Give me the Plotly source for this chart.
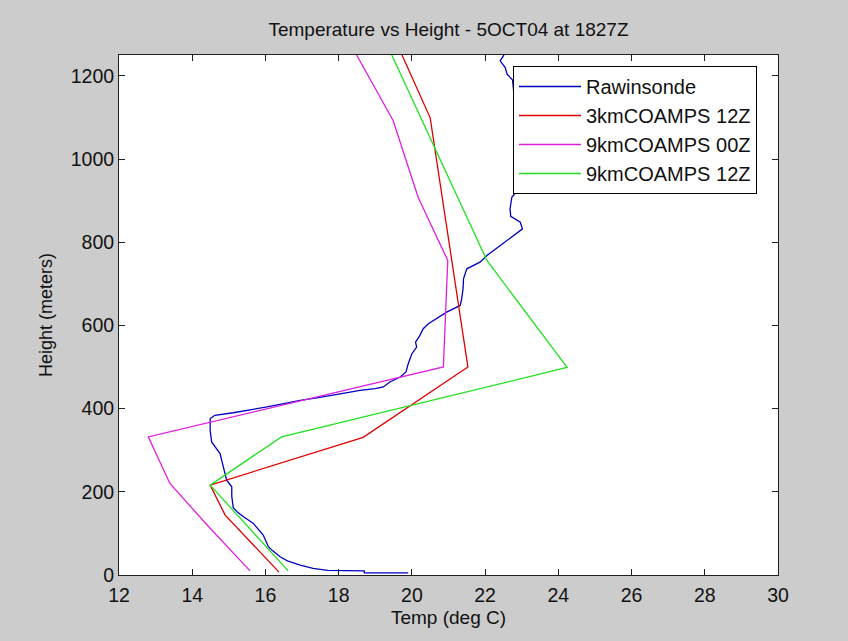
import plotly.graph_objects as go

# Rawinsonde profile (temperature degC, height m)
raw_temp = [19.9, 18.7, 18.7, 17.7, 17.3, 16.95, 16.6, 16.4, 16.2, 16.08, 15.94, 15.8, 15.67,
            15.4, 15.25, 15.12, 15.08, 15.08, 14.94, 14.85, 14.76, 14.53, 14.49, 14.49, 14.62,
            15.12, 15.6, 16.04, 16.5, 16.95, 17.4, 17.86, 18.2, 18.58, 19.0, 19.22, 19.4, 19.68,
            19.84, 19.9, 20.0, 20.13, 20.1, 20.22, 20.31, 20.45, 20.68, 20.95, 21.32, 21.36,
            21.4, 21.41, 21.5, 21.86, 22.05, 22.23, 22.41, 22.64, 22.8, 23.02, 22.96, 22.7,
            22.68, 22.73, 22.96, 23.0, 22.95, 22.9, 22.85, 22.8, 22.75, 22.6, 22.55, 22.41,
            22.5, 22.55]
raw_height = [5, 5, 10, 11, 16, 24, 34, 44, 58, 68, 96, 110, 124,
              140, 150, 162, 190, 212, 228, 260, 292, 320, 348, 376, 384,
              390, 397, 404, 412, 420, 426, 432, 438, 444, 448, 452, 464, 476,
              488, 508, 532, 548, 560, 576, 592, 604, 616, 632, 648, 664,
              690, 712, 736, 752, 768, 780, 792, 806, 818, 832, 848, 862,
              880, 908, 932, 960, 1000, 1050, 1100, 1150, 1190, 1204, 1220, 1236,
              1248, 1260]

# 3km COAMPS 12Z
c3_12_temp = [16.37, 14.9, 14.49, 18.67, 21.53, 20.5, 19.73]
c3_12_height = [7, 144, 216, 331, 500, 1099, 1250]

# 9km COAMPS 00Z
c9_00_temp = [15.58, 14.45, 13.39, 12.8, 20.86, 20.98, 20.17, 19.49, 18.49]
c9_00_height = [10, 116, 220, 332, 500, 756, 908, 1092, 1250]

# 9km COAMPS 12Z
c9_12_temp = [16.62, 14.49, 16.44, 24.24, 22.05, 19.45]
c9_12_height = [10, 216, 332, 499, 756, 1250]

x_ticks = [12, 14, 16, 18, 20, 22, 24, 26, 28, 30]
y_ticks = [0, 200, 400, 600, 800, 1000, 1200]

FONT = "Liberation Sans, Arial, sans-serif"

fig = go.Figure()
fig.add_trace(go.Scatter(x=raw_temp, y=raw_height, mode="lines", name="Rawinsonde",
                         line=dict(color="#0000c0", width=1.3)))
fig.add_trace(go.Scatter(x=c3_12_temp, y=c3_12_height, mode="lines", name="3kmCOAMPS 12Z",
                         line=dict(color="#e00000", width=1.3)))
fig.add_trace(go.Scatter(x=c9_00_temp, y=c9_00_height, mode="lines", name="9kmCOAMPS 00Z",
                         line=dict(color="#e020e0", width=1.3)))
fig.add_trace(go.Scatter(x=c9_12_temp, y=c9_12_height, mode="lines", name="9kmCOAMPS 12Z",
                         line=dict(color="#20e020", width=1.3)))

axis_common = dict(showgrid=False, zeroline=False, showline=True, linecolor="#202020",
                   linewidth=1, mirror="allticks", ticks="inside", ticklen=6,
                   tickcolor="#202020", tickfont=dict(family=FONT, size=19.5, color="#111111"))

fig.update_layout(
    width=848, height=641,
    paper_bgcolor="#cccccc", plot_bgcolor="#ffffff",
    margin=dict(l=119, r=70, t=55, b=66),
    title=dict(text="Temperature vs Height - 5OCT04 at 1827Z", x=0.5, xref="paper",
               y=1 - 29 / 641, yref="container", yanchor="middle",
               font=dict(family=FONT, size=19, color="#111111")),
    xaxis=dict(range=[12, 30], tickvals=x_ticks, ticktext=[str(v) for v in x_ticks],
               ticklabelstandoff=3,
               title=dict(text="Temp (deg C)", font=dict(family=FONT, size=19, color="#111111"),
                          standoff=5),
               **axis_common),
    yaxis=dict(range=[0, 1250], tickvals=y_ticks, ticktext=[str(v) for v in y_ticks],
               title=dict(text="Height (meters)", font=dict(family=FONT, size=18, color="#111111"),
                          standoff=13),
               **axis_common),
    legend=dict(x=(513 - 119) / 659, y=(575 - 66) / 520, xanchor="left", yanchor="top",
                bgcolor="#ffffff", bordercolor="#000000", borderwidth=1,
                font=dict(family=FONT, size=20, color="#111111"),
                itemwidth=62, tracegroupgap=0),
    showlegend=True,
)

fig.write_html("out.html")
